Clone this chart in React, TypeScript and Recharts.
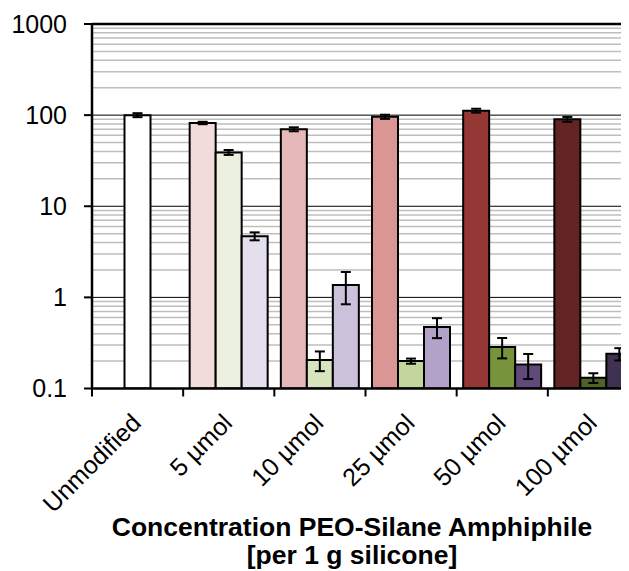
import React from 'react';
import { BarChart, Bar, XAxis, YAxis, CartesianGrid, ErrorBar, Cell, Label } from 'recharts';

// ---- data ----
const categories = ['Unmodified', '5 µmol', '10 µmol', '25 µmol', '50 µmol', '100 µmol'];
const seriesA: (number | null)[] = [null, 82, 70, 96, 112, 90];
const errA: (number | null)[] = [null, 2.5, 3.5, 5, 5.5, 5.5];
const seriesB: (number | null)[] = [100, 39, 0.205, 0.2, 0.286, 0.131];
const errB: (number | null)[] = [5, 2.4, 0.05, 0.013, 0.072, 0.016];
const seriesC: (number | null)[] = [null, 4.7, 1.37, 0.474, 0.183, 0.24];
const errC: (number | null)[] = [null, 0.47, 0.53, 0.117, 0.056, 0.037];

const yTicks = [0.1, 1, 10, 100, 1000];
const majorGrid = [1, 10, 100];
const topGrid = [1000];
const minorGrid = [
  0.2, 0.3, 0.4, 0.5, 0.6, 0.7, 0.8, 0.9,
  2, 3, 4, 5, 6, 7, 8, 9,
  20, 30, 40, 50, 60, 70, 80, 90,
  200, 300, 400, 500, 600, 700, 800, 900,
];
const xTitle1 = 'Concentration PEO-Silane Amphiphile';
const xTitle2 = '[per 1 g silicone]';

// ---- styles ----
const colorsA = ['#FFFFFF', '#F2DCDB', '#E6B9B8', '#D99694', '#953735', '#632523'];
const colorsB = ['#FFFFFF', '#EBF1DE', '#D7E4BD', '#C3D69B', '#77933C', '#4F6228'];
const colorsC = ['#FFFFFF', '#E4DFEC', '#CCC1DA', '#B3A2C7', '#604A7B', '#3F3151'];

const data = categories.map((cat, i) => ({
  cat,
  a: seriesA[i],
  ea: errA[i],
  b: seriesB[i],
  eb: errB[i],
  c: seriesC[i],
  ec: errC[i],
}));

const CHART_W = 640;
const CHART_H = 563;
const MARGIN = { top: 16, right: 9, bottom: 0, left: 0 };
const Y_W = 84;
const PLOT_BOTTOM = 380.5;
const X_H = CHART_H - PLOT_BOTTOM;
const BAND = (CHART_W - Y_W - MARGIN.right) / categories.length;
const FONT = '"Liberation Sans", Arial, sans-serif';

const XTick = (props: any) => {
  const { x, y, payload } = props;
  const tx = x + 5;
  const ty = y + 36;
  return (
    <g>
      <line x1={x - BAND / 2} y1={y} x2={x - BAND / 2} y2={y + 8} stroke="#000" strokeWidth={2} />
      <text
        x={tx}
        y={ty}
        textAnchor="end"
        fontSize={25}
        fill="#000"
        fontFamily={FONT}
        transform={`rotate(-45 ${tx} ${ty})`}
      >
        {payload.value}
      </text>
    </g>
  );
};

const TitleLabel = () => (
  <g>
    <text x={344} y={527.7} textAnchor="middle" fontSize={26.5} fontWeight="bold" fill="#000" fontFamily={FONT}>
      {xTitle1}
    </text>
    <text x={344} y={555.5} textAnchor="middle" fontSize={26.5} fontWeight="bold" fill="#000" fontFamily={FONT}>
      {xTitle2}
    </text>
  </g>
);

export default function App() {
  return (
    <div style={{ width: 621, height: 563, overflow: 'hidden' }}>
      <BarChart
        width={CHART_W}
        height={CHART_H}
        data={data}
        margin={MARGIN}
        barCategoryGap={6.5}
        barGap={0}
        style={{ fontFamily: FONT }}
      >
        <CartesianGrid horizontalValues={minorGrid} vertical={false} stroke="#BEBEBE" strokeWidth={1.5} />
        <CartesianGrid horizontalValues={majorGrid} vertical={false} stroke="#000" strokeWidth={1} />
        <CartesianGrid horizontalValues={topGrid} vertical={false} stroke="#000" strokeWidth={2.5} />
        <XAxis
          dataKey="cat"
          type="category"
          height={X_H}
          interval={0}
          tickLine={false}
          tickSize={0}
          tickMargin={0}
          axisLine={{ stroke: '#000', strokeWidth: 2.5 }}
          tick={<XTick />}
        >
          <Label content={<TitleLabel />} />
        </XAxis>
        <YAxis
          type="number"
          scale="log"
          domain={[0.1, 1000]}
          ticks={yTicks}
          interval={0}
          width={Y_W}
          allowDataOverflow
          tickSize={8}
          tickMargin={17}
          tickLine={{ stroke: '#000', strokeWidth: 2 }}
          axisLine={{ stroke: '#000', strokeWidth: 2.5 }}
          tick={{ fill: '#000', fontSize: 25, fontFamily: FONT }}
        />
        <Bar dataKey="a" stroke="#000" strokeWidth={2} isAnimationActive={false}>
          {data.map((_, i) => (
            <Cell key={`a${i}`} fill={colorsA[i]} />
          ))}
          <ErrorBar dataKey="ea" width={5} stroke="#000" strokeWidth={2} />
        </Bar>
        <Bar dataKey="b" stroke="#000" strokeWidth={2} isAnimationActive={false}>
          {data.map((_, i) => (
            <Cell key={`b${i}`} fill={colorsB[i]} />
          ))}
          <ErrorBar dataKey="eb" width={5} stroke="#000" strokeWidth={2} />
        </Bar>
        <Bar dataKey="c" stroke="#000" strokeWidth={2} isAnimationActive={false}>
          {data.map((_, i) => (
            <Cell key={`c${i}`} fill={colorsC[i]} />
          ))}
          <ErrorBar dataKey="ec" width={5} stroke="#000" strokeWidth={2} />
        </Bar>
      </BarChart>
    </div>
  );
}
